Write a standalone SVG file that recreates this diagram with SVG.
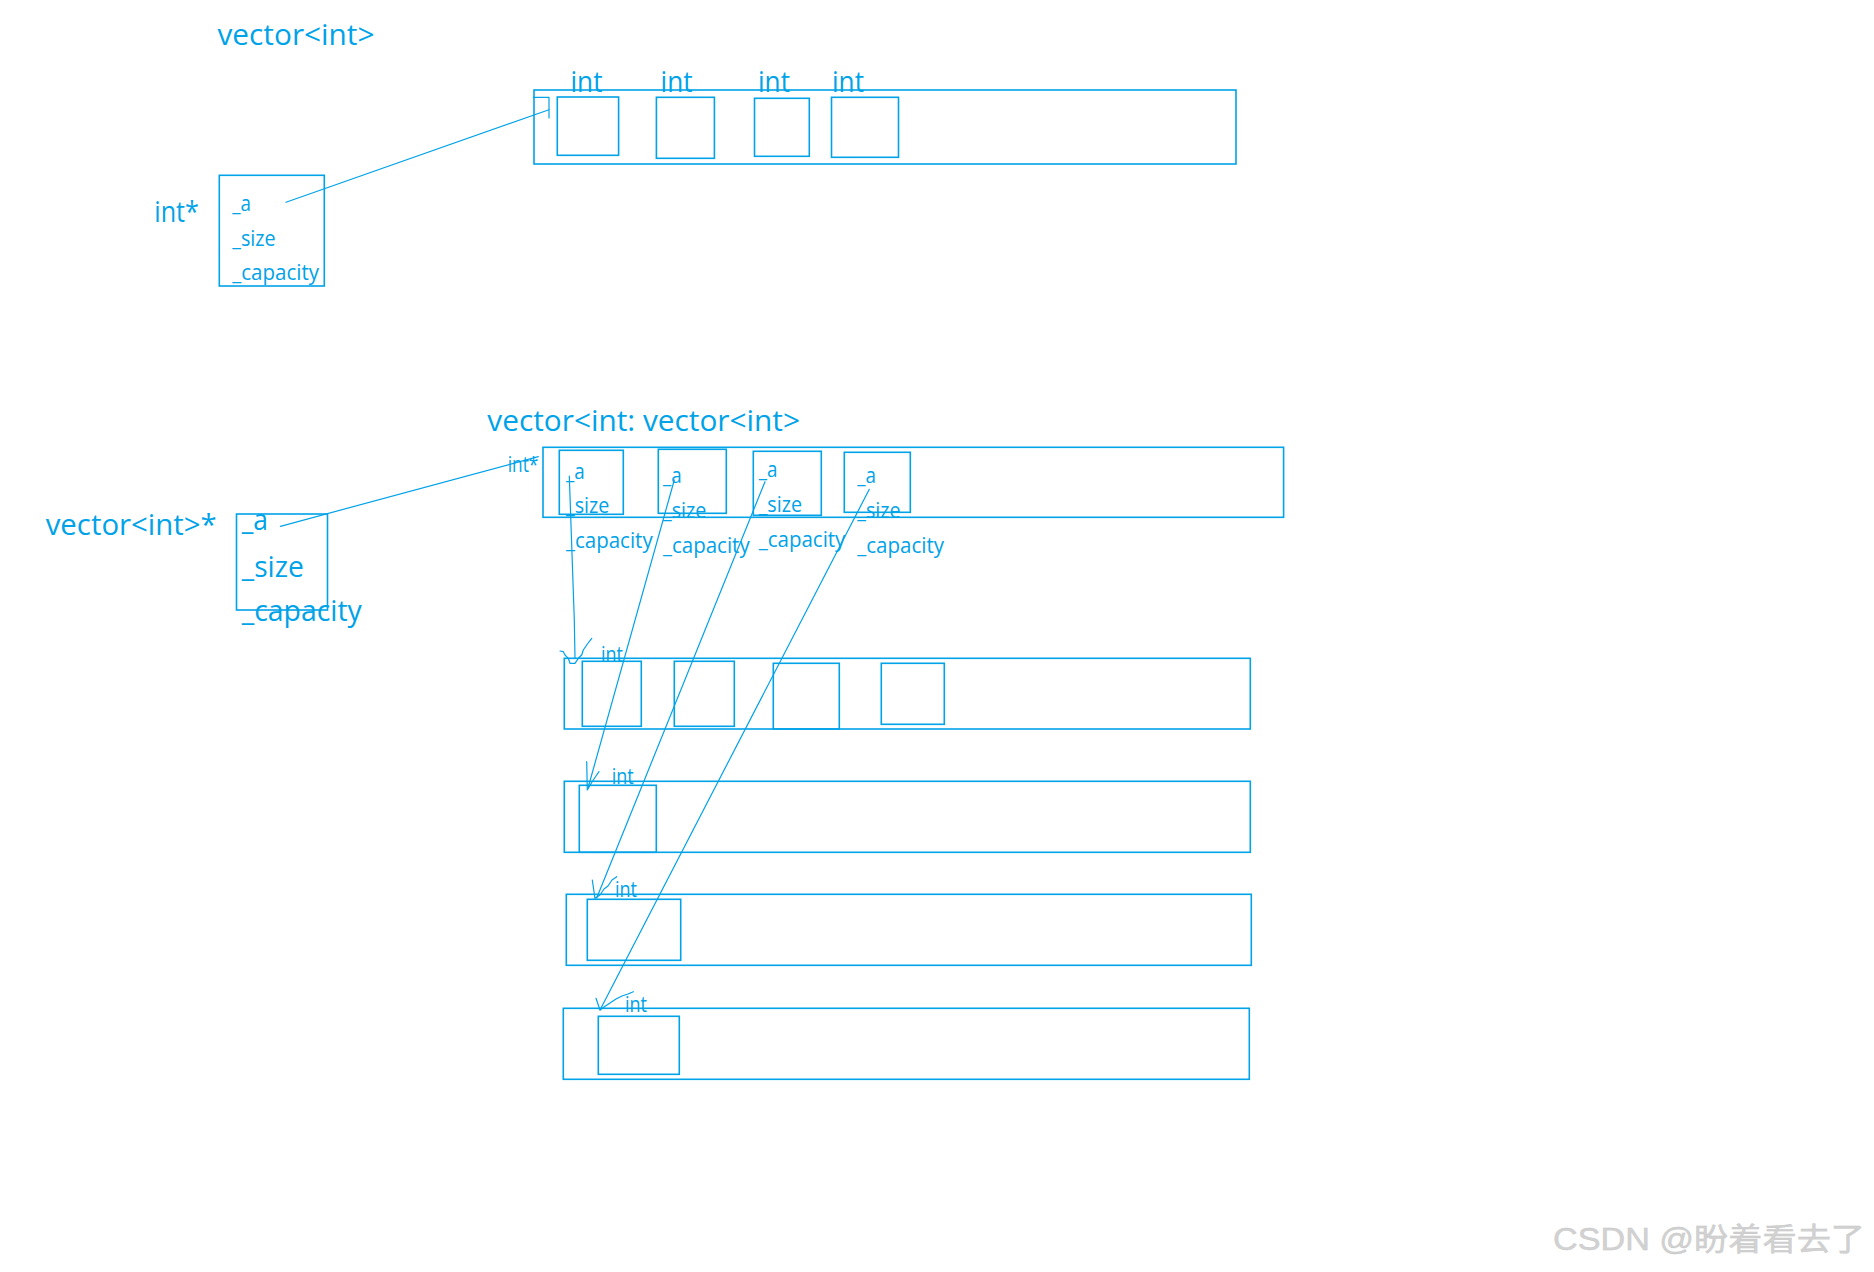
<svg xmlns="http://www.w3.org/2000/svg" width="1874" height="1272" viewBox="0 0 1874 1272">
<style>
.b{fill:none;stroke:#00A2E8;stroke-width:1.6}
.l{fill:none;stroke:#00A2E8;stroke-width:1.2;stroke-linejoin:round;stroke-linecap:round}
.t{font-family:"Open Sans","Noto Sans",sans-serif;fill:#00A2E8}
.lg{font-size:30px}
.sm{font-size:21px}
.md{font-size:30px}
.wm{font-family:"Liberation Sans","Noto Sans CJK SC",sans-serif;font-size:31px;fill:#d2d2d2;stroke:#c4c4c4;stroke-width:0.4}
</style>
<rect width="1874" height="1272" fill="#ffffff"/>

<!-- Top section -->
<g id="title-top">
<text class="t lg" x="217.5" y="45" textLength="157" lengthAdjust="spacingAndGlyphs">vector&lt;int&gt;</text>
</g>
<g id="int-array-top">
<rect class="b" x="534" y="90" width="702" height="74"/>
<rect class="b" x="557.3" y="97" width="61.3" height="58.3"/>
<rect class="b" x="656.4" y="97.3" width="58" height="61"/>
<rect class="b" x="754.5" y="98.3" width="54.8" height="58"/>
<rect class="b" x="831.5" y="97.3" width="67" height="60"/>
<text class="t lg" x="570.5" y="92" textLength="32" lengthAdjust="spacingAndGlyphs">int</text>
<text class="t lg" x="660.6" y="92" textLength="32" lengthAdjust="spacingAndGlyphs">int</text>
<text class="t lg" x="758" y="92" textLength="32" lengthAdjust="spacingAndGlyphs">int</text>
<text class="t lg" x="832" y="92" textLength="32" lengthAdjust="spacingAndGlyphs">int</text>
</g>
<g id="intptr-top">
<text class="t lg" x="154.3" y="221.7" textLength="44.7" lengthAdjust="spacingAndGlyphs">int*</text>
<rect class="b" x="219.3" y="175.3" width="105" height="110.7"/>
<text class="t sm" x="232.3" y="211" textLength="18.7" lengthAdjust="spacingAndGlyphs">_a</text>
<text class="t sm" x="232.3" y="245.5" textLength="43.4" lengthAdjust="spacingAndGlyphs">_size</text>
<text class="t sm" x="232.3" y="280" textLength="86.7" lengthAdjust="spacingAndGlyphs">_capacity</text>
</g>

<!-- Bottom section -->
<g id="title-bottom">
<text class="t lg" x="487.3" y="431" textLength="312.7" lengthAdjust="spacingAndGlyphs">vector&lt;int: vector&lt;int&gt;</text>
</g>
<g id="vecptr">
<text class="t lg" x="45.7" y="535" textLength="171" lengthAdjust="spacingAndGlyphs">vector&lt;int&gt;*</text>
<rect class="b" x="236.5" y="514" width="91" height="96"/>
<text class="t md" x="241.8" y="530" textLength="26.2" lengthAdjust="spacingAndGlyphs">_a</text>
<text class="t md" x="241.8" y="577" textLength="62" lengthAdjust="spacingAndGlyphs">_size</text>
<text class="t md" x="241.8" y="621" textLength="120" lengthAdjust="spacingAndGlyphs">_capacity</text>
</g>
<g id="vec-array">
<text class="t sm" x="507.7" y="471.7" textLength="30.6" lengthAdjust="spacingAndGlyphs">int*</text>
<rect class="b" x="543" y="447.3" width="740.6" height="70"/>
<rect class="b" x="559.3" y="450.3" width="64" height="64"/>
<rect class="b" x="658.3" y="449.3" width="68" height="64"/>
<rect class="b" x="753.3" y="451.3" width="68" height="64"/>
<rect class="b" x="844.3" y="452.3" width="66" height="60"/>
<text class="t sm" x="566" y="479.3" textLength="18.7" lengthAdjust="spacingAndGlyphs">_a</text>
<text class="t sm" x="566" y="513.3" textLength="43.4" lengthAdjust="spacingAndGlyphs">_size</text>
<text class="t sm" x="566" y="548.3" textLength="86.7" lengthAdjust="spacingAndGlyphs">_capacity</text>
<text class="t sm" x="663" y="483.3" textLength="18.7" lengthAdjust="spacingAndGlyphs">_a</text>
<text class="t sm" x="663" y="518.3" textLength="43.4" lengthAdjust="spacingAndGlyphs">_size</text>
<text class="t sm" x="663" y="553.3" textLength="86.7" lengthAdjust="spacingAndGlyphs">_capacity</text>
<text class="t sm" x="758.7" y="477.3" textLength="18.7" lengthAdjust="spacingAndGlyphs">_a</text>
<text class="t sm" x="758.7" y="511.7" textLength="43.4" lengthAdjust="spacingAndGlyphs">_size</text>
<text class="t sm" x="758.7" y="546.7" textLength="86.7" lengthAdjust="spacingAndGlyphs">_capacity</text>
<text class="t sm" x="857.3" y="483.3" textLength="18.7" lengthAdjust="spacingAndGlyphs">_a</text>
<text class="t sm" x="857.3" y="518.3" textLength="43.4" lengthAdjust="spacingAndGlyphs">_size</text>
<text class="t sm" x="857.3" y="553.3" textLength="86.7" lengthAdjust="spacingAndGlyphs">_capacity</text>
</g>

<g id="row1">
<rect class="b" x="564.3" y="658.3" width="686" height="70.7"/>
<rect class="b" x="582.3" y="661.3" width="59" height="65"/>
<rect class="b" x="674.3" y="661.3" width="60" height="65"/>
<rect class="b" x="773.3" y="663.3" width="66" height="65.7"/>
<rect class="b" x="881.3" y="663.3" width="63" height="61"/>
<text class="t sm" x="601" y="661.7" textLength="22" lengthAdjust="spacingAndGlyphs">int</text>
</g>
<g id="row2">
<rect class="b" x="564.3" y="781.3" width="686" height="71"/>
<rect class="b" x="579.3" y="785.3" width="77" height="67"/>
<text class="t sm" x="611.7" y="784" textLength="22" lengthAdjust="spacingAndGlyphs">int</text>
</g>
<g id="row3">
<rect class="b" x="566.3" y="894.3" width="685" height="71"/>
<rect class="b" x="587.3" y="899.3" width="93.4" height="61"/>
<text class="t sm" x="615" y="897.3" textLength="22" lengthAdjust="spacingAndGlyphs">int</text>
</g>
<g id="row4">
<rect class="b" x="563.3" y="1008.3" width="686" height="71"/>
<rect class="b" x="598.3" y="1016.3" width="81" height="58"/>
<text class="t sm" x="625" y="1011.7" textLength="22" lengthAdjust="spacingAndGlyphs">int</text>
</g>

<g id="connectors">
<!-- top pointer -->
<line class="l" x1="286" y1="202.3" x2="549" y2="109.7"/>
<polyline class="l" points="533.3,97.3 549,97.3 549,118"/>
<!-- bottom pointer -->
<line class="l" x1="280.4" y1="526.3" x2="538.3" y2="456.7"/>
<!-- line 1 -->
<polyline class="l" points="569.3,476 574.3,620 575,658"/>
<polyline class="l" points="560,651 563.3,651.7 565,655 568.3,658.3 570,663.3 575,663.3 578.3,658.3 581.7,655 583.3,650 586.7,645 591.7,638.3"/>
<!-- line 2 -->
<line class="l" x1="674.3" y1="480" x2="588" y2="788"/>
<polyline class="l" points="586.7,761.7 587.3,790 592,782 596,776 599,771.7"/>
<!-- line 3 -->
<line class="l" x1="765" y1="481.7" x2="596.7" y2="898"/>
<polyline class="l" points="592.3,880 595,898.3 600,895 604,889 608,886 612,880 616.7,876.7"/>
<!-- line 4 -->
<line class="l" x1="869.3" y1="489.3" x2="600" y2="1010"/>
<polyline class="l" points="596,998.3 600,1010 604,1007 610,1003 616,999 622,996 628,994 633.3,991.7"/>
</g>

<g id="watermark">
<text class="wm" x="1553" y="1250" textLength="312" lengthAdjust="spacingAndGlyphs">CSDN @盼着看去了</text>
</g>
</svg>
